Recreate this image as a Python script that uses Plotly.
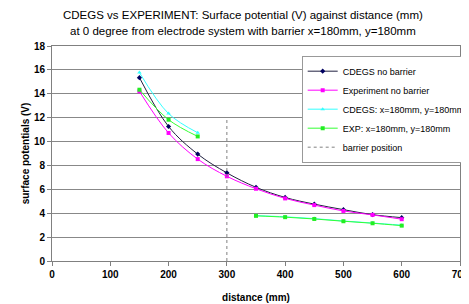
import plotly.graph_objects as go

distance = [150, 200, 250, 300, 350, 400, 450, 500, 550, 600]
cdegs_no_barrier = [15.35, 11.26, 8.95, 7.38, 6.17, 5.32, 4.76, 4.30, 3.88, 3.63]
exp_no_barrier = [14.2, 10.72, 8.53, 7.09, 6.05, 5.24, 4.68, 4.19, 3.86, 3.50]

dist_barrier = [150, 200, 250, None, 350, 400, 450, 500, 550, 600]
cdegs_barrier = [15.78, 12.34, 10.74, None, 3.80, 3.70, 3.55, 3.35, 3.18, 3.00]
exp_barrier = [14.34, 11.83, 10.43, None, 3.78, 3.67, 3.52, 3.33, 3.16, 2.96]

barrier_x = [300, 300]
barrier_y = [0, 12]

title_lines = ["CDEGS vs EXPERIMENT: Surface potential (V) against distance (mm)",
               "at 0 degree from electrode system with barrier x=180mm, y=180mm"]

fig = go.Figure()
fig.add_trace(go.Scatter(x=distance, y=cdegs_no_barrier, name="CDEGS no barrier",
                         mode="lines+markers", line=dict(color="#202040", width=1, shape="spline"),
                         marker=dict(symbol="diamond", size=4, color="#000060")))
fig.add_trace(go.Scatter(x=distance, y=exp_no_barrier, name="Experiment no barrier",
                         mode="lines+markers", line=dict(color="#ff00ff", width=1, shape="spline"),
                         marker=dict(symbol="square", size=4, color="#ff00ff")))
fig.add_trace(go.Scatter(x=dist_barrier, y=cdegs_barrier, name="CDEGS: x=180mm, y=180mm",
                         mode="lines+markers", connectgaps=False,
                         line=dict(color="#33ffff", width=1, shape="spline"),
                         marker=dict(symbol="triangle-up", size=4, color="#33ffff")))
fig.add_trace(go.Scatter(x=dist_barrier, y=exp_barrier, name="EXP: x=180mm, y=180mm",
                         mode="lines+markers", connectgaps=False,
                         line=dict(color="#33ff33", width=1, shape="spline"),
                         marker=dict(symbol="square", size=4, color="#22ee22")))
fig.add_trace(go.Scatter(x=barrier_x, y=barrier_y, name="barrier position",
                         mode="lines", line=dict(color="#808080", width=1, dash="dot")))

for txt, yy in zip(title_lines, [1.144, 1.070]):
    fig.add_annotation(text=txt, xref="paper", yref="paper", x=0.468, y=yy,
                       xanchor="center", yanchor="middle", showarrow=False,
                       font=dict(size=11.5))

fig.update_layout(
    width=461, height=296,
    margin=dict(l=44, r=9, t=38, b=43, autoexpand=False),
    paper_bgcolor="white", plot_bgcolor="white",
    font=dict(family="Liberation Sans, Arial, sans-serif", color="black"),
    showlegend=True,
    legend=dict(x=0.612, y=0.955, xanchor="left", yanchor="top",
                bgcolor="white", bordercolor="#999999", borderwidth=1,
                font=dict(size=9), tracegroupgap=0, itemwidth=30),
)
fig.update_xaxes(range=[0, 700], dtick=100, automargin=False,
                 tickfont=dict(size=10, family="Liberation Sans, Arial", weight="bold"),
                 showgrid=False, showline=True, linecolor="#808080", mirror=True,
                 ticks="outside", ticklen=4, tickcolor="#808080", zeroline=False,
                 title=dict(text="<b>distance (mm)</b>", font=dict(size=10), standoff=14))
fig.update_yaxes(range=[0, 18], dtick=2, automargin=False,
                 tickfont=dict(size=10, family="Liberation Sans, Arial", weight="bold"),
                 showgrid=True, gridcolor="#888888", gridwidth=1,
                 showline=True, linecolor="#808080", mirror=True,
                 ticks="outside", ticklen=4, tickcolor="#808080", zeroline=False,
                 title=dict(text="<b>surface potentials (V)</b>", font=dict(size=10), standoff=2))

fig.write_html("out.html")
